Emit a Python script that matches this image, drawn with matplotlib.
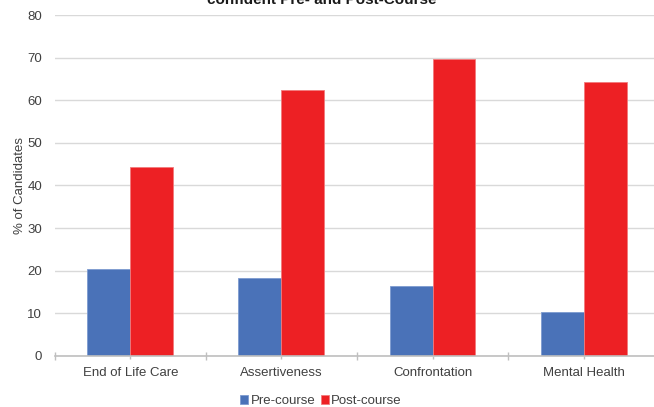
import matplotlib
matplotlib.use("Agg")
import matplotlib.pyplot as plt
import numpy as np

categories = ["End of Life Care", "Assertiveness", "Confrontation", "Mental Health"]
pre_course = [20.4, 18.4, 16.3, 10.2]
post_course = [44.3, 62.5, 69.8, 64.2]
series_names = ["Pre-course", "Post-course"]
y_ticks = [0, 10, 20, 30, 40, 50, 60, 70, 80]

plt.rcParams["font.family"] = ["Liberation Sans", "DejaVu Sans"]
text_color = "#404040"

fig = plt.figure(figsize=(6.54, 4.07), dpi=100)
ax = fig.add_axes([0.0836, 0.1256, 0.9245, 0.8373])

x = np.arange(len(categories))
w = 0.284
ax.bar(x - w / 2, pre_course, w, color="#4a72b8", edgecolor="#7d9bd0",
       linewidth=0.6, label=series_names[0], zorder=3)
ax.bar(x + w / 2, post_course, w, color="#ed2024", edgecolor="#f27a7c",
       linewidth=0.6, label=series_names[1], zorder=3)

ax.set_xlim(-0.5, len(categories) - 0.5)
ax.set_ylim(0, 80)
ax.set_yticks(y_ticks)
ax.yaxis.grid(True, color="#d9d9d9", linewidth=1.0, zorder=0)
ax.tick_params(axis="y", length=0, pad=9, labelsize=9.5, labelcolor=text_color)

# category separators as major ticks, labels on minor ticks at centres
ax.set_xticks(np.arange(-0.5, len(categories), 1.0))
ax.set_xticklabels([])
ax.set_xticks(x, minor=True)
ax.set_xticklabels(categories, minor=True)
ax.tick_params(axis="x", which="major", direction="inout", length=6,
               color="#bfbfbf", width=1)
ax.tick_params(axis="x", which="minor", direction="out", length=2.5,
               color="#bfbfbf", width=1, pad=5.5, labelsize=9.5,
               labelcolor=text_color)

for s in ["top", "right", "left"]:
    ax.spines[s].set_visible(False)
ax.spines["bottom"].set_color("#bfbfbf")
ax.spines["bottom"].set_linewidth(1.2)
ax.spines["bottom"].set_zorder(4)

ax.set_ylabel("% of Candidates", fontsize=9.5, color=text_color)
ax.yaxis.set_label_coords(-0.047, 0.5)

fig.text(0.492, 1 - 3.5 / 407, "confident Pre- and Post-Course",
         ha="center", va="baseline", fontsize=11, fontweight="bold",
         color="#1a1a1a")

leg = fig.legend(loc="center", bbox_to_anchor=(321 / 654, 1 - 401 / 407),
                 ncol=2, frameon=False, fontsize=9.5, handlelength=0.6,
                 handleheight=0.6, handletextpad=0.2, columnspacing=0.4,
                 labelcolor=text_color)

fig.savefig("out.png", dpi=100)
